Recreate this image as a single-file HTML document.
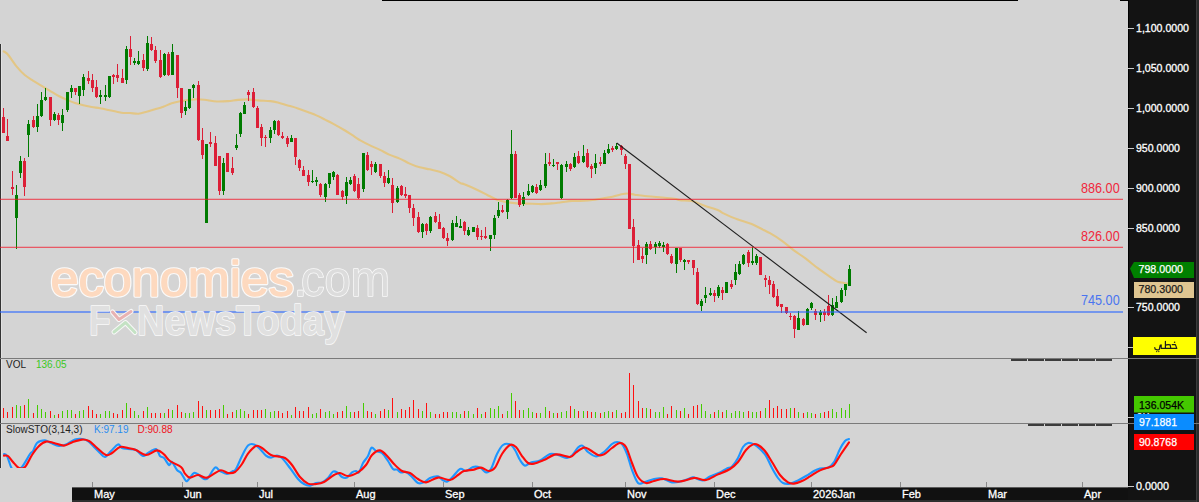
<!DOCTYPE html>
<html><head><meta charset="utf-8"><style>
html,body{margin:0;padding:0;width:1199px;height:502px;overflow:hidden;background:#d4d4d4;font-family:"Liberation Sans",sans-serif}
#wrap{position:relative;width:1199px;height:502px;overflow:hidden}
</style></head><body><div id="wrap">
<svg width="1199" height="502" viewBox="0 0 1199 502" style="position:absolute;left:0;top:0">
<rect x="0" y="0" width="1199" height="502" fill="#d4d4d4"/>
<g shape-rendering="crispEdges">
<rect x="382" y="0" width="636" height="1" fill="#000"/>
<rect x="1120" y="0" width="8" height="1" fill="#000"/>
<rect x="0" y="44" width="1" height="424" fill="#333"/>
<rect x="1" y="44" width="1" height="424" fill="#e2e2e2"/>
</g>
<path d="M3.7,51.3 C4.5,51.9 6.1,52.4 8.3,55 C10.5,57.6 13.9,63.3 16.7,66.7 C19.5,70.1 22.2,73 25,75.3 C27.8,77.6 30.5,79 33.3,80.8 C36.1,82.5 38.9,84.1 41.7,85.8 C44.5,87.5 47.2,89.1 50,90.8 C52.8,92.5 55.5,94.3 58.3,95.8 C61.1,97.3 63.9,98.5 66.7,99.7 C69.5,100.9 72.2,102.1 75,103 C77.8,103.9 80.5,104.6 83.3,105.3 C86.1,106 88.9,106.5 91.7,107 C94.5,107.5 97.2,107.8 100,108.3 C102.8,108.8 105.5,109.4 108.3,110 C111.1,110.6 114.2,111.2 116.7,111.7 C119.2,112.2 121.1,112.8 123.3,113 C125.5,113.2 127.5,112.9 130,113 C132.5,113.1 135.5,114 138.3,113.8 C141.1,113.6 143.9,112.5 146.7,111.7 C149.5,110.9 152.2,110 155,109.2 C157.8,108.4 160.5,107.7 163.3,106.7 C166.1,105.7 168.9,104.2 171.7,103.3 C174.5,102.4 177.2,101.8 180,101.3 C182.8,100.8 185.5,100.3 188.3,100 C191.1,99.7 194,99.2 196.7,99.2 C199.4,99.2 201.2,99.3 204.6,99.7 C208,100.1 213.1,101.3 217,101.5 C220.9,101.7 224.5,101.4 228,101.1 C231.5,100.8 234.7,100.2 238,99.9 C241.3,99.6 244.7,99.3 248,99.4 C251.3,99.5 254.2,100.1 257.9,100.4 C261.6,100.7 267,100.8 270.3,101.1 C273.6,101.4 274.9,101.7 277.8,102.4 C280.7,103.1 284.3,104.4 287.7,105.4 C291.1,106.4 294.7,107.4 298,108.5 C301.3,109.6 304.6,110.8 307.7,112 C310.8,113.2 313.5,114.1 316.4,115.4 C319.3,116.7 322.2,118.2 325,119.6 C327.8,121 329.6,121.8 332.9,123.6 C336.2,125.4 341.4,128.3 345,130.5 C348.6,132.7 352.2,135.2 354.8,136.8 C357.4,138.5 357.8,139 360.3,140.4 C362.8,141.8 366.7,143.8 370,145.4 C373.3,147 376.7,148.3 380,149.9 C383.3,151.5 386.5,153.5 389.8,154.9 C393.1,156.3 396.4,157.2 399.7,158.6 C403,160 406.4,162.1 409.7,163.6 C413,165.1 416.4,166.4 419.7,167.3 C423,168.2 426.3,168.6 429.6,169.3 C432.9,170.1 436.3,170.7 439.6,171.8 C442.9,172.9 446.1,174.2 449.5,176 C452.9,177.8 457.5,181.4 460,182.8 C462.5,184.2 461.6,183 464.4,184.2 C467.2,185.3 473.1,187.9 476.9,189.7 C480.6,191.4 483.6,193 486.9,194.7 C490.2,196.4 493.5,198.4 496.8,199.7 C500.1,200.9 503.5,201.6 506.8,202.2 C510.1,202.8 513.4,203.2 516.7,203.4 C520,203.6 522.6,203.5 526.7,203.6 C530.9,203.7 537.5,204.1 541.6,204.1 C545.8,204.1 548.3,203.7 551.6,203.4 C554.9,203.1 558.1,202.6 561.5,202.2 C564.9,201.8 568.9,201.1 572,200.9 C575.1,200.7 576.2,201.1 580,200.9 C583.8,200.7 589.9,200.3 594.9,199.7 C599.9,199.1 605.6,198 609.8,197.2 C613.9,196.4 616.9,195.3 619.8,194.7 C622.7,194.1 624.7,193.5 627.2,193.5 C629.7,193.5 631.8,194.3 634.7,194.7 C637.6,195.1 640.6,195.6 644.7,196 C648.9,196.4 654.6,196.7 659.6,197.2 C664.6,197.7 671.1,198.3 674.5,198.8 C677.9,199.3 677.1,199.8 680,200.2 C682.9,200.6 688,200.1 692,201 C696,201.9 699.5,203.9 703.9,205.5 C708.3,207.1 715,209 718.2,210.3 C721.4,211.6 719.8,211.6 723,213.1 C726.2,214.6 732.5,217.5 737.3,219.3 C742.1,221.1 747.3,222.2 751.7,224 C756.1,225.8 760.6,228.5 763.6,230 C766.6,231.5 766.9,231.4 770,233.2 C773.1,235 778,238 782,240.8 C786,243.7 789.9,247.3 793.9,250.3 C797.9,253.3 801.8,255.7 805.8,258.7 C809.8,261.7 813.8,265.2 817.8,268.2 C821.8,271.2 826.5,274.4 829.7,276.6 C832.9,278.8 834.9,280.4 836.9,281.4 C838.9,282.4 840,282.2 841.7,282.6 C843.4,283 846.1,283.4 847,283.6" fill="none" stroke="#e3c685" stroke-width="2.1" stroke-linejoin="round" stroke-linecap="round"/>
<g shape-rendering="crispEdges"><rect x="3" y="108" width="1" height="25" fill="#dc1f37"/><rect x="2" y="117" width="3" height="16" fill="#dc1f37"/><rect x="7" y="119" width="1" height="22" fill="#dc1f37"/><rect x="6" y="136" width="3" height="5" fill="#dc1f37"/><rect x="12" y="171" width="1" height="24" fill="#dc1f37"/><rect x="11" y="187" width="3" height="2" fill="#dc1f37"/><rect x="16" y="185" width="1" height="64" fill="#007b00"/><rect x="15" y="195" width="3" height="23" fill="#007b00"/><rect x="20" y="156" width="1" height="22" fill="#007b00"/><rect x="19" y="161" width="3" height="12" fill="#007b00"/><rect x="24" y="158" width="1" height="38" fill="#dc1f37"/><rect x="23" y="161" width="3" height="26" fill="#dc1f37"/><rect x="28" y="120" width="1" height="37" fill="#007b00"/><rect x="27" y="124" width="3" height="11" fill="#007b00"/><rect x="33" y="116" width="1" height="12" fill="#dc1f37"/><rect x="32" y="120" width="3" height="7" fill="#dc1f37"/><rect x="37" y="104" width="1" height="28" fill="#007b00"/><rect x="36" y="116" width="3" height="11" fill="#007b00"/><rect x="41" y="92" width="1" height="25" fill="#007b00"/><rect x="40" y="100" width="3" height="16" fill="#007b00"/><rect x="45" y="88" width="1" height="13" fill="#007b00"/><rect x="44" y="97" width="3" height="3" fill="#007b00"/><rect x="50" y="97" width="1" height="29" fill="#dc1f37"/><rect x="49" y="97" width="3" height="23" fill="#dc1f37"/><rect x="54" y="112" width="1" height="9" fill="#007b00"/><rect x="53" y="114" width="3" height="6" fill="#007b00"/><rect x="58" y="113" width="1" height="12" fill="#dc1f37"/><rect x="57" y="115" width="3" height="5" fill="#dc1f37"/><rect x="62" y="109" width="1" height="22" fill="#007b00"/><rect x="61" y="115" width="3" height="8" fill="#007b00"/><rect x="67" y="92" width="1" height="20" fill="#007b00"/><rect x="66" y="92" width="3" height="18" fill="#007b00"/><rect x="71" y="85" width="1" height="13" fill="#007b00"/><rect x="70" y="88" width="3" height="4" fill="#007b00"/><rect x="75" y="88" width="1" height="7" fill="#dc1f37"/><rect x="74" y="88" width="3" height="4" fill="#dc1f37"/><rect x="79" y="86" width="1" height="18" fill="#007b00"/><rect x="78" y="86" width="3" height="10" fill="#007b00"/><rect x="83" y="74" width="1" height="22" fill="#007b00"/><rect x="82" y="77" width="3" height="13" fill="#007b00"/><rect x="88" y="71" width="1" height="13" fill="#dc1f37"/><rect x="87" y="78" width="3" height="3" fill="#dc1f37"/><rect x="92" y="74" width="1" height="18" fill="#dc1f37"/><rect x="91" y="80" width="3" height="8" fill="#dc1f37"/><rect x="96" y="80" width="1" height="18" fill="#dc1f37"/><rect x="95" y="87" width="3" height="10" fill="#dc1f37"/><rect x="100" y="90" width="1" height="14" fill="#007b00"/><rect x="99" y="95" width="3" height="2" fill="#007b00"/><rect x="105" y="85" width="1" height="16" fill="#007b00"/><rect x="104" y="95" width="3" height="2" fill="#007b00"/><rect x="109" y="76" width="1" height="22" fill="#007b00"/><rect x="108" y="76" width="3" height="21" fill="#007b00"/><rect x="113" y="74" width="1" height="10" fill="#dc1f37"/><rect x="112" y="75" width="3" height="2" fill="#dc1f37"/><rect x="117" y="64" width="1" height="18" fill="#dc1f37"/><rect x="116" y="75" width="3" height="3" fill="#dc1f37"/><rect x="122" y="69" width="1" height="14" fill="#dc1f37"/><rect x="121" y="78" width="3" height="5" fill="#dc1f37"/><rect x="126" y="46" width="1" height="38" fill="#007b00"/><rect x="125" y="49" width="3" height="31" fill="#007b00"/><rect x="130" y="36" width="1" height="29" fill="#dc1f37"/><rect x="129" y="49" width="3" height="8" fill="#dc1f37"/><rect x="134" y="58" width="1" height="7" fill="#007b00"/><rect x="133" y="61" width="3" height="2" fill="#007b00"/><rect x="138" y="51" width="1" height="14" fill="#007b00"/><rect x="137" y="61" width="3" height="3" fill="#007b00"/><rect x="143" y="54" width="1" height="17" fill="#dc1f37"/><rect x="142" y="60" width="3" height="8" fill="#dc1f37"/><rect x="147" y="36" width="1" height="35" fill="#007b00"/><rect x="146" y="43" width="3" height="26" fill="#007b00"/><rect x="151" y="37" width="1" height="14" fill="#dc1f37"/><rect x="150" y="44" width="3" height="6" fill="#dc1f37"/><rect x="155" y="46" width="1" height="17" fill="#dc1f37"/><rect x="154" y="50" width="3" height="11" fill="#dc1f37"/><rect x="160" y="50" width="1" height="28" fill="#dc1f37"/><rect x="159" y="60" width="3" height="17" fill="#dc1f37"/><rect x="164" y="53" width="1" height="23" fill="#007b00"/><rect x="163" y="54" width="3" height="21" fill="#007b00"/><rect x="168" y="52" width="1" height="24" fill="#dc1f37"/><rect x="167" y="54" width="3" height="21" fill="#dc1f37"/><rect x="172" y="44" width="1" height="31" fill="#007b00"/><rect x="171" y="52" width="3" height="23" fill="#007b00"/><rect x="177" y="55" width="1" height="43" fill="#dc1f37"/><rect x="176" y="55" width="3" height="33" fill="#dc1f37"/><rect x="181" y="88" width="1" height="30" fill="#dc1f37"/><rect x="180" y="88" width="3" height="25" fill="#dc1f37"/><rect x="185" y="101" width="1" height="14" fill="#007b00"/><rect x="184" y="107" width="3" height="4" fill="#007b00"/><rect x="189" y="89" width="1" height="20" fill="#007b00"/><rect x="188" y="89" width="3" height="19" fill="#007b00"/><rect x="193" y="84" width="1" height="14" fill="#007b00"/><rect x="192" y="85" width="3" height="3" fill="#007b00"/><rect x="198" y="81" width="1" height="60" fill="#dc1f37"/><rect x="197" y="85" width="3" height="55" fill="#dc1f37"/><rect x="202" y="128" width="1" height="31" fill="#dc1f37"/><rect x="201" y="140" width="3" height="15" fill="#dc1f37"/><rect x="205" y="144" width="3" height="79" fill="#007b00"/><rect x="210" y="132" width="1" height="15" fill="#dc1f37"/><rect x="209" y="142" width="3" height="2" fill="#dc1f37"/><rect x="215" y="136" width="1" height="30" fill="#dc1f37"/><rect x="214" y="143" width="3" height="23" fill="#dc1f37"/><rect x="219" y="156" width="1" height="39" fill="#dc1f37"/><rect x="218" y="156" width="3" height="35" fill="#dc1f37"/><rect x="223" y="158" width="1" height="37" fill="#007b00"/><rect x="222" y="163" width="3" height="28" fill="#007b00"/><rect x="226" y="153" width="3" height="19" fill="#dc1f37"/><rect x="232" y="157" width="1" height="18" fill="#dc1f37"/><rect x="231" y="168" width="3" height="5" fill="#dc1f37"/><rect x="236" y="134" width="1" height="16" fill="#007b00"/><rect x="235" y="145" width="3" height="3" fill="#007b00"/><rect x="240" y="112" width="1" height="25" fill="#007b00"/><rect x="239" y="113" width="3" height="21" fill="#007b00"/><rect x="244" y="102" width="1" height="12" fill="#007b00"/><rect x="243" y="105" width="3" height="9" fill="#007b00"/><rect x="248" y="90" width="1" height="11" fill="#dc1f37"/><rect x="247" y="92" width="3" height="3" fill="#dc1f37"/><rect x="253" y="88" width="1" height="20" fill="#dc1f37"/><rect x="252" y="92" width="3" height="15" fill="#dc1f37"/><rect x="257" y="106" width="1" height="22" fill="#dc1f37"/><rect x="256" y="108" width="3" height="20" fill="#dc1f37"/><rect x="261" y="124" width="1" height="22" fill="#dc1f37"/><rect x="260" y="127" width="3" height="11" fill="#dc1f37"/><rect x="265" y="135" width="1" height="12" fill="#dc1f37"/><rect x="264" y="137" width="3" height="1" fill="#dc1f37"/><rect x="270" y="127" width="1" height="16" fill="#007b00"/><rect x="269" y="130" width="3" height="8" fill="#007b00"/><rect x="274" y="120" width="1" height="14" fill="#007b00"/><rect x="273" y="121" width="3" height="9" fill="#007b00"/><rect x="278" y="120" width="1" height="16" fill="#dc1f37"/><rect x="277" y="121" width="3" height="14" fill="#dc1f37"/><rect x="282" y="132" width="1" height="7" fill="#dc1f37"/><rect x="281" y="136" width="3" height="2" fill="#dc1f37"/><rect x="287" y="136" width="1" height="11" fill="#dc1f37"/><rect x="286" y="138" width="3" height="6" fill="#dc1f37"/><rect x="291" y="135" width="1" height="7" fill="#007b00"/><rect x="290" y="138" width="3" height="4" fill="#007b00"/><rect x="295" y="138" width="1" height="27" fill="#dc1f37"/><rect x="294" y="138" width="3" height="19" fill="#dc1f37"/><rect x="299" y="159" width="1" height="12" fill="#dc1f37"/><rect x="298" y="160" width="3" height="8" fill="#dc1f37"/><rect x="303" y="166" width="1" height="10" fill="#dc1f37"/><rect x="302" y="170" width="3" height="6" fill="#dc1f37"/><rect x="308" y="170" width="1" height="16" fill="#dc1f37"/><rect x="307" y="175" width="3" height="7" fill="#dc1f37"/><rect x="312" y="170" width="1" height="13" fill="#007b00"/><rect x="311" y="181" width="3" height="1" fill="#007b00"/><rect x="316" y="177" width="1" height="9" fill="#007b00"/><rect x="315" y="180" width="3" height="2" fill="#007b00"/><rect x="320" y="183" width="1" height="14" fill="#dc1f37"/><rect x="319" y="184" width="3" height="11" fill="#dc1f37"/><rect x="325" y="183" width="1" height="19" fill="#007b00"/><rect x="324" y="184" width="3" height="13" fill="#007b00"/><rect x="329" y="173" width="1" height="15" fill="#007b00"/><rect x="328" y="173" width="3" height="11" fill="#007b00"/><rect x="333" y="171" width="1" height="9" fill="#007b00"/><rect x="332" y="172" width="3" height="5" fill="#007b00"/><rect x="337" y="174" width="1" height="21" fill="#dc1f37"/><rect x="336" y="175" width="3" height="20" fill="#dc1f37"/><rect x="342" y="190" width="1" height="10" fill="#dc1f37"/><rect x="341" y="191" width="3" height="6" fill="#dc1f37"/><rect x="346" y="177" width="1" height="27" fill="#007b00"/><rect x="345" y="182" width="3" height="14" fill="#007b00"/><rect x="350" y="177" width="1" height="8" fill="#007b00"/><rect x="349" y="180" width="3" height="4" fill="#007b00"/><rect x="354" y="174" width="1" height="18" fill="#dc1f37"/><rect x="353" y="176" width="3" height="15" fill="#dc1f37"/><rect x="358" y="178" width="1" height="21" fill="#dc1f37"/><rect x="357" y="184" width="3" height="14" fill="#dc1f37"/><rect x="363" y="153" width="1" height="39" fill="#007b00"/><rect x="362" y="153" width="3" height="36" fill="#007b00"/><rect x="367" y="152" width="1" height="19" fill="#dc1f37"/><rect x="366" y="155" width="3" height="15" fill="#dc1f37"/><rect x="371" y="161" width="1" height="14" fill="#dc1f37"/><rect x="370" y="164" width="3" height="3" fill="#dc1f37"/><rect x="375" y="162" width="1" height="11" fill="#007b00"/><rect x="374" y="164" width="3" height="8" fill="#007b00"/><rect x="380" y="164" width="1" height="14" fill="#dc1f37"/><rect x="379" y="164" width="3" height="12" fill="#dc1f37"/><rect x="384" y="172" width="1" height="15" fill="#dc1f37"/><rect x="383" y="176" width="3" height="7" fill="#dc1f37"/><rect x="388" y="170" width="1" height="14" fill="#007b00"/><rect x="387" y="178" width="3" height="5" fill="#007b00"/><rect x="392" y="178" width="1" height="35" fill="#dc1f37"/><rect x="391" y="185" width="3" height="18" fill="#dc1f37"/><rect x="397" y="186" width="1" height="17" fill="#007b00"/><rect x="396" y="188" width="3" height="14" fill="#007b00"/><rect x="401" y="185" width="1" height="11" fill="#dc1f37"/><rect x="400" y="186" width="3" height="9" fill="#dc1f37"/><rect x="405" y="187" width="1" height="11" fill="#dc1f37"/><rect x="404" y="194" width="3" height="2" fill="#dc1f37"/><rect x="409" y="195" width="1" height="18" fill="#dc1f37"/><rect x="408" y="195" width="3" height="13" fill="#dc1f37"/><rect x="413" y="204" width="1" height="22" fill="#dc1f37"/><rect x="412" y="208" width="3" height="10" fill="#dc1f37"/><rect x="418" y="212" width="1" height="21" fill="#dc1f37"/><rect x="417" y="217" width="3" height="15" fill="#dc1f37"/><rect x="422" y="223" width="1" height="15" fill="#007b00"/><rect x="421" y="224" width="3" height="8" fill="#007b00"/><rect x="426" y="223" width="1" height="12" fill="#dc1f37"/><rect x="425" y="224" width="3" height="7" fill="#dc1f37"/><rect x="430" y="216" width="1" height="17" fill="#007b00"/><rect x="429" y="217" width="3" height="14" fill="#007b00"/><rect x="435" y="212" width="1" height="11" fill="#dc1f37"/><rect x="434" y="216" width="3" height="6" fill="#dc1f37"/><rect x="439" y="214" width="1" height="15" fill="#dc1f37"/><rect x="438" y="222" width="3" height="7" fill="#dc1f37"/><rect x="443" y="227" width="1" height="12" fill="#dc1f37"/><rect x="442" y="228" width="3" height="10" fill="#dc1f37"/><rect x="447" y="233" width="1" height="13" fill="#dc1f37"/><rect x="446" y="238" width="3" height="3" fill="#dc1f37"/><rect x="452" y="220" width="1" height="21" fill="#007b00"/><rect x="451" y="223" width="3" height="17" fill="#007b00"/><rect x="456" y="216" width="1" height="11" fill="#007b00"/><rect x="455" y="223" width="3" height="4" fill="#007b00"/><rect x="460" y="219" width="1" height="9" fill="#007b00"/><rect x="459" y="226" width="3" height="2" fill="#007b00"/><rect x="464" y="221" width="1" height="14" fill="#dc1f37"/><rect x="463" y="222" width="3" height="9" fill="#dc1f37"/><rect x="468" y="227" width="1" height="9" fill="#007b00"/><rect x="467" y="230" width="3" height="5" fill="#007b00"/><rect x="472" y="227" width="3" height="5" fill="#007b00"/><rect x="477" y="225" width="1" height="15" fill="#dc1f37"/><rect x="476" y="228" width="3" height="9" fill="#dc1f37"/><rect x="481" y="230" width="1" height="10" fill="#dc1f37"/><rect x="480" y="236" width="3" height="1" fill="#dc1f37"/><rect x="485" y="227" width="1" height="12" fill="#dc1f37"/><rect x="484" y="236" width="3" height="2" fill="#dc1f37"/><rect x="490" y="235" width="1" height="16" fill="#007b00"/><rect x="489" y="235" width="3" height="4" fill="#007b00"/><rect x="494" y="215" width="1" height="24" fill="#007b00"/><rect x="493" y="218" width="3" height="17" fill="#007b00"/><rect x="498" y="202" width="1" height="16" fill="#007b00"/><rect x="497" y="210" width="3" height="6" fill="#007b00"/><rect x="502" y="205" width="1" height="8" fill="#dc1f37"/><rect x="501" y="210" width="3" height="2" fill="#dc1f37"/><rect x="507" y="199" width="1" height="20" fill="#007b00"/><rect x="506" y="200" width="3" height="12" fill="#007b00"/><rect x="511" y="130" width="1" height="69" fill="#007b00"/><rect x="510" y="154" width="3" height="44" fill="#007b00"/><rect x="515" y="151" width="1" height="47" fill="#dc1f37"/><rect x="514" y="154" width="3" height="44" fill="#dc1f37"/><rect x="519" y="193" width="1" height="14" fill="#dc1f37"/><rect x="518" y="195" width="3" height="10" fill="#dc1f37"/><rect x="523" y="192" width="1" height="14" fill="#007b00"/><rect x="522" y="197" width="3" height="7" fill="#007b00"/><rect x="528" y="184" width="1" height="12" fill="#007b00"/><rect x="527" y="191" width="3" height="4" fill="#007b00"/><rect x="532" y="185" width="1" height="8" fill="#007b00"/><rect x="531" y="186" width="3" height="6" fill="#007b00"/><rect x="536" y="184" width="1" height="10" fill="#dc1f37"/><rect x="535" y="187" width="3" height="6" fill="#dc1f37"/><rect x="540" y="180" width="1" height="11" fill="#007b00"/><rect x="539" y="185" width="3" height="5" fill="#007b00"/><rect x="545" y="153" width="1" height="35" fill="#007b00"/><rect x="544" y="164" width="3" height="22" fill="#007b00"/><rect x="549" y="153" width="1" height="13" fill="#dc1f37"/><rect x="548" y="162" width="3" height="2" fill="#dc1f37"/><rect x="553" y="159" width="1" height="8" fill="#007b00"/><rect x="552" y="165" width="3" height="1" fill="#007b00"/><rect x="557" y="162" width="1" height="8" fill="#dc1f37"/><rect x="556" y="162" width="3" height="2" fill="#dc1f37"/><rect x="561" y="164" width="1" height="35" fill="#007b00"/><rect x="560" y="165" width="3" height="33" fill="#007b00"/><rect x="566" y="161" width="1" height="11" fill="#007b00"/><rect x="565" y="164" width="3" height="3" fill="#007b00"/><rect x="570" y="163" width="1" height="8" fill="#dc1f37"/><rect x="569" y="164" width="3" height="5" fill="#dc1f37"/><rect x="574" y="153" width="1" height="15" fill="#007b00"/><rect x="573" y="157" width="3" height="10" fill="#007b00"/><rect x="578" y="151" width="1" height="13" fill="#dc1f37"/><rect x="577" y="156" width="3" height="7" fill="#dc1f37"/><rect x="583" y="145" width="1" height="18" fill="#007b00"/><rect x="582" y="156" width="3" height="6" fill="#007b00"/><rect x="587" y="149" width="1" height="19" fill="#dc1f37"/><rect x="586" y="153" width="3" height="14" fill="#dc1f37"/><rect x="591" y="164" width="1" height="14" fill="#dc1f37"/><rect x="590" y="166" width="3" height="3" fill="#dc1f37"/><rect x="595" y="154" width="1" height="20" fill="#007b00"/><rect x="594" y="163" width="3" height="5" fill="#007b00"/><rect x="600" y="157" width="1" height="9" fill="#dc1f37"/><rect x="599" y="162" width="3" height="2" fill="#dc1f37"/><rect x="604" y="150" width="1" height="14" fill="#007b00"/><rect x="603" y="153" width="3" height="11" fill="#007b00"/><rect x="608" y="144" width="1" height="10" fill="#007b00"/><rect x="607" y="149" width="3" height="4" fill="#007b00"/><rect x="612" y="146" width="1" height="6" fill="#dc1f37"/><rect x="611" y="148" width="3" height="2" fill="#dc1f37"/><rect x="616" y="143" width="1" height="7" fill="#007b00"/><rect x="615" y="146" width="3" height="3" fill="#007b00"/><rect x="621" y="145" width="1" height="10" fill="#dc1f37"/><rect x="620" y="146" width="3" height="4" fill="#dc1f37"/><rect x="625" y="154" width="1" height="15" fill="#dc1f37"/><rect x="624" y="156" width="3" height="8" fill="#dc1f37"/><rect x="628" y="164" width="3" height="65" fill="#dc1f37"/><rect x="633" y="219" width="1" height="44" fill="#dc1f37"/><rect x="632" y="227" width="3" height="19" fill="#dc1f37"/><rect x="638" y="240" width="1" height="20" fill="#dc1f37"/><rect x="637" y="245" width="3" height="15" fill="#dc1f37"/><rect x="642" y="248" width="1" height="15" fill="#dc1f37"/><rect x="641" y="256" width="3" height="3" fill="#dc1f37"/><rect x="646" y="242" width="1" height="22" fill="#007b00"/><rect x="645" y="244" width="3" height="11" fill="#007b00"/><rect x="650" y="241" width="1" height="9" fill="#dc1f37"/><rect x="649" y="244" width="3" height="5" fill="#dc1f37"/><rect x="655" y="242" width="1" height="12" fill="#007b00"/><rect x="654" y="244" width="3" height="3" fill="#007b00"/><rect x="659" y="241" width="1" height="7" fill="#007b00"/><rect x="658" y="243" width="3" height="3" fill="#007b00"/><rect x="663" y="242" width="1" height="10" fill="#007b00"/><rect x="662" y="245" width="3" height="2" fill="#007b00"/><rect x="667" y="243" width="1" height="12" fill="#dc1f37"/><rect x="666" y="244" width="3" height="10" fill="#dc1f37"/><rect x="671" y="254" width="1" height="10" fill="#dc1f37"/><rect x="670" y="256" width="3" height="7" fill="#dc1f37"/><rect x="676" y="248" width="1" height="25" fill="#007b00"/><rect x="675" y="248" width="3" height="16" fill="#007b00"/><rect x="680" y="248" width="1" height="14" fill="#dc1f37"/><rect x="679" y="248" width="3" height="12" fill="#dc1f37"/><rect x="684" y="259" width="1" height="11" fill="#007b00"/><rect x="683" y="260" width="3" height="2" fill="#007b00"/><rect x="688" y="260" width="1" height="4" fill="#dc1f37"/><rect x="687" y="260" width="3" height="2" fill="#dc1f37"/><rect x="693" y="260" width="1" height="15" fill="#dc1f37"/><rect x="692" y="260" width="3" height="8" fill="#dc1f37"/><rect x="697" y="268" width="1" height="37" fill="#dc1f37"/><rect x="696" y="272" width="3" height="32" fill="#dc1f37"/><rect x="701" y="299" width="1" height="12" fill="#007b00"/><rect x="700" y="301" width="3" height="5" fill="#007b00"/><rect x="705" y="287" width="1" height="16" fill="#007b00"/><rect x="704" y="295" width="3" height="3" fill="#007b00"/><rect x="710" y="288" width="1" height="8" fill="#007b00"/><rect x="709" y="293" width="3" height="2" fill="#007b00"/><rect x="714" y="290" width="1" height="12" fill="#dc1f37"/><rect x="713" y="293" width="3" height="3" fill="#dc1f37"/><rect x="718" y="285" width="1" height="13" fill="#007b00"/><rect x="717" y="287" width="3" height="9" fill="#007b00"/><rect x="722" y="287" width="1" height="13" fill="#dc1f37"/><rect x="721" y="290" width="3" height="3" fill="#dc1f37"/><rect x="725" y="282" width="3" height="11" fill="#007b00"/><rect x="731" y="280" width="1" height="9" fill="#dc1f37"/><rect x="730" y="284" width="3" height="3" fill="#dc1f37"/><rect x="735" y="264" width="1" height="21" fill="#007b00"/><rect x="734" y="272" width="3" height="8" fill="#007b00"/><rect x="739" y="261" width="1" height="14" fill="#007b00"/><rect x="738" y="264" width="3" height="10" fill="#007b00"/><rect x="743" y="254" width="1" height="11" fill="#007b00"/><rect x="742" y="255" width="3" height="9" fill="#007b00"/><rect x="748" y="250" width="1" height="17" fill="#dc1f37"/><rect x="747" y="252" width="3" height="11" fill="#dc1f37"/><rect x="752" y="247" width="1" height="18" fill="#007b00"/><rect x="751" y="261" width="3" height="2" fill="#007b00"/><rect x="756" y="254" width="1" height="11" fill="#007b00"/><rect x="755" y="256" width="3" height="7" fill="#007b00"/><rect x="759" y="257" width="3" height="18" fill="#dc1f37"/><rect x="765" y="275" width="1" height="12" fill="#dc1f37"/><rect x="764" y="278" width="3" height="2" fill="#dc1f37"/><rect x="769" y="276" width="1" height="18" fill="#dc1f37"/><rect x="768" y="280" width="3" height="5" fill="#dc1f37"/><rect x="773" y="281" width="1" height="17" fill="#dc1f37"/><rect x="772" y="284" width="3" height="13" fill="#dc1f37"/><rect x="777" y="289" width="1" height="18" fill="#dc1f37"/><rect x="776" y="296" width="3" height="10" fill="#dc1f37"/><rect x="781" y="304" width="1" height="9" fill="#dc1f37"/><rect x="780" y="304" width="3" height="3" fill="#dc1f37"/><rect x="786" y="307" width="1" height="7" fill="#dc1f37"/><rect x="785" y="307" width="3" height="6" fill="#dc1f37"/><rect x="790" y="313" width="1" height="7" fill="#dc1f37"/><rect x="789" y="316" width="3" height="1" fill="#dc1f37"/><rect x="794" y="315" width="1" height="23" fill="#dc1f37"/><rect x="793" y="316" width="3" height="13" fill="#dc1f37"/><rect x="798" y="311" width="1" height="19" fill="#007b00"/><rect x="797" y="318" width="3" height="12" fill="#007b00"/><rect x="803" y="318" width="1" height="8" fill="#dc1f37"/><rect x="802" y="319" width="3" height="6" fill="#dc1f37"/><rect x="807" y="308" width="1" height="17" fill="#007b00"/><rect x="806" y="309" width="3" height="16" fill="#007b00"/><rect x="811" y="302" width="1" height="8" fill="#007b00"/><rect x="810" y="303" width="3" height="5" fill="#007b00"/><rect x="815" y="309" width="1" height="11" fill="#dc1f37"/><rect x="814" y="311" width="3" height="4" fill="#dc1f37"/><rect x="820" y="310" width="1" height="12" fill="#007b00"/><rect x="819" y="312" width="3" height="3" fill="#007b00"/><rect x="824" y="309" width="1" height="12" fill="#dc1f37"/><rect x="823" y="312" width="3" height="3" fill="#dc1f37"/><rect x="828" y="295" width="1" height="21" fill="#dc1f37"/><rect x="827" y="306" width="3" height="9" fill="#dc1f37"/><rect x="832" y="298" width="1" height="18" fill="#007b00"/><rect x="831" y="305" width="3" height="10" fill="#007b00"/><rect x="836" y="296" width="1" height="12" fill="#007b00"/><rect x="835" y="302" width="3" height="6" fill="#007b00"/><rect x="841" y="288" width="1" height="15" fill="#007b00"/><rect x="840" y="290" width="3" height="12" fill="#007b00"/><rect x="845" y="284" width="1" height="12" fill="#007b00"/><rect x="844" y="284" width="3" height="6" fill="#007b00"/><rect x="849" y="265" width="1" height="21" fill="#007b00"/><rect x="848" y="269" width="3" height="17" fill="#007b00"/></g>
<line x1="616.7" y1="143" x2="866.6" y2="332.7" stroke="#1e1e1e" stroke-width="1.1"/>
<g shape-rendering="crispEdges"><rect x="0" y="199" width="1123" height="1" fill="rgb(242,24,42)" fill-opacity="0.65"/>
<rect x="0" y="247" width="1123" height="1" fill="rgb(242,24,42)" fill-opacity="0.65"/>
<rect x="0" y="198" width="1123" height="1" fill="rgb(242,24,42)" fill-opacity="0.18"/>
<rect x="0" y="246" width="1123" height="1" fill="rgb(242,24,42)" fill-opacity="0.18"/>
<rect x="0" y="311" width="1123" height="2" fill="rgb(37,98,255)" fill-opacity="0.55"/></g>
<g font-family="Liberation Sans, sans-serif" font-size="14">
<text x="1081" y="193" fill="#f0283c" textLength="38.7" lengthAdjust="spacingAndGlyphs">886.00</text>
<text x="1081" y="241" fill="#f0283c" textLength="38.7" lengthAdjust="spacingAndGlyphs">826.00</text>
<text x="1081" y="305" fill="#4a74f0" textLength="38.7" lengthAdjust="spacingAndGlyphs">745.00</text>
</g>
<g shape-rendering="crispEdges">
<rect x="0" y="358" width="1199" height="1" fill="#7a7a7a"/>
<rect x="0" y="423" width="1199" height="1" fill="#7a7a7a"/>
<rect x="1011" y="359" width="16" height="1.5" fill="#3c3c3c"/>
<rect x="1028" y="359" width="16" height="1.5" fill="#3c3c3c"/>
<rect x="1045" y="359" width="16" height="1.5" fill="#3c3c3c"/>
<rect x="1062" y="359" width="16" height="1.5" fill="#3c3c3c"/>
<rect x="1079" y="359" width="16" height="1.5" fill="#3c3c3c"/>
<rect x="1096" y="359" width="16" height="1.5" fill="#3c3c3c"/>
<rect x="1028" y="424" width="16" height="1.5" fill="#3c3c3c"/>
<rect x="1045" y="424" width="16" height="1.5" fill="#3c3c3c"/>
<rect x="1062" y="424" width="16" height="1.5" fill="#3c3c3c"/>
<rect x="1079" y="424" width="16" height="1.5" fill="#3c3c3c"/>
<rect x="1096" y="424" width="16" height="1.5" fill="#3c3c3c"/>
</g>
<g shape-rendering="crispEdges"><rect x="3" y="408" width="1" height="10" fill="#ff1010"/><rect x="7" y="412" width="1" height="6" fill="#ff1010"/><rect x="12" y="407" width="1" height="11" fill="#ff1010"/><rect x="16" y="405" width="1" height="13" fill="#44cc00"/><rect x="20" y="406" width="1" height="12" fill="#44cc00"/><rect x="24" y="405" width="1" height="13" fill="#ff1010"/><rect x="28" y="399" width="1" height="19" fill="#44cc00"/><rect x="33" y="413" width="1" height="5" fill="#ff1010"/><rect x="37" y="405" width="1" height="13" fill="#44cc00"/><rect x="41" y="409" width="1" height="9" fill="#44cc00"/><rect x="45" y="412" width="1" height="6" fill="#44cc00"/><rect x="50" y="411" width="1" height="7" fill="#ff1010"/><rect x="54" y="415" width="1" height="3" fill="#44cc00"/><rect x="58" y="414" width="1" height="4" fill="#ff1010"/><rect x="62" y="411" width="1" height="7" fill="#44cc00"/><rect x="67" y="410" width="1" height="8" fill="#44cc00"/><rect x="71" y="410" width="1" height="8" fill="#44cc00"/><rect x="75" y="414" width="1" height="4" fill="#ff1010"/><rect x="79" y="411" width="1" height="7" fill="#44cc00"/><rect x="83" y="410" width="1" height="8" fill="#44cc00"/><rect x="88" y="406" width="1" height="12" fill="#ff1010"/><rect x="92" y="410" width="1" height="8" fill="#ff1010"/><rect x="96" y="414" width="1" height="4" fill="#ff1010"/><rect x="100" y="414" width="1" height="4" fill="#44cc00"/><rect x="105" y="411" width="1" height="7" fill="#44cc00"/><rect x="109" y="411" width="1" height="7" fill="#44cc00"/><rect x="113" y="413" width="1" height="5" fill="#ff1010"/><rect x="117" y="414" width="1" height="4" fill="#ff1010"/><rect x="122" y="410" width="1" height="8" fill="#ff1010"/><rect x="126" y="403" width="1" height="15" fill="#44cc00"/><rect x="130" y="408" width="1" height="10" fill="#ff1010"/><rect x="134" y="411" width="1" height="7" fill="#44cc00"/><rect x="138" y="415" width="1" height="3" fill="#44cc00"/><rect x="143" y="411" width="1" height="7" fill="#ff1010"/><rect x="147" y="407" width="1" height="11" fill="#44cc00"/><rect x="151" y="413" width="1" height="5" fill="#ff1010"/><rect x="155" y="413" width="1" height="5" fill="#ff1010"/><rect x="160" y="413" width="1" height="5" fill="#ff1010"/><rect x="164" y="413" width="1" height="5" fill="#44cc00"/><rect x="168" y="409" width="1" height="9" fill="#ff1010"/><rect x="172" y="410" width="1" height="8" fill="#44cc00"/><rect x="177" y="405" width="1" height="13" fill="#ff1010"/><rect x="181" y="412" width="1" height="6" fill="#ff1010"/><rect x="185" y="413" width="1" height="5" fill="#44cc00"/><rect x="189" y="413" width="1" height="5" fill="#44cc00"/><rect x="193" y="412" width="1" height="6" fill="#44cc00"/><rect x="198" y="401" width="1" height="17" fill="#ff1010"/><rect x="202" y="406" width="1" height="12" fill="#ff1010"/><rect x="206" y="410" width="1" height="8" fill="#44cc00"/><rect x="210" y="410" width="1" height="8" fill="#ff1010"/><rect x="215" y="410" width="1" height="8" fill="#ff1010"/><rect x="219" y="409" width="1" height="9" fill="#ff1010"/><rect x="223" y="405" width="1" height="13" fill="#44cc00"/><rect x="227" y="414" width="1" height="4" fill="#ff1010"/><rect x="232" y="412" width="1" height="6" fill="#ff1010"/><rect x="236" y="410" width="1" height="8" fill="#44cc00"/><rect x="240" y="409" width="1" height="9" fill="#44cc00"/><rect x="244" y="411" width="1" height="7" fill="#44cc00"/><rect x="248" y="414" width="1" height="4" fill="#ff1010"/><rect x="253" y="410" width="1" height="8" fill="#ff1010"/><rect x="257" y="410" width="1" height="8" fill="#ff1010"/><rect x="261" y="410" width="1" height="8" fill="#ff1010"/><rect x="265" y="409" width="1" height="9" fill="#44cc00"/><rect x="270" y="412" width="1" height="6" fill="#44cc00"/><rect x="274" y="411" width="1" height="7" fill="#44cc00"/><rect x="278" y="411" width="1" height="7" fill="#ff1010"/><rect x="282" y="413" width="1" height="5" fill="#ff1010"/><rect x="287" y="411" width="1" height="7" fill="#ff1010"/><rect x="291" y="415" width="1" height="3" fill="#44cc00"/><rect x="295" y="407" width="1" height="11" fill="#ff1010"/><rect x="299" y="411" width="1" height="7" fill="#ff1010"/><rect x="303" y="411" width="1" height="7" fill="#ff1010"/><rect x="308" y="407" width="1" height="11" fill="#ff1010"/><rect x="312" y="414" width="1" height="4" fill="#44cc00"/><rect x="316" y="413" width="1" height="5" fill="#44cc00"/><rect x="320" y="409" width="1" height="9" fill="#ff1010"/><rect x="325" y="412" width="1" height="6" fill="#44cc00"/><rect x="329" y="411" width="1" height="7" fill="#44cc00"/><rect x="333" y="414" width="1" height="4" fill="#44cc00"/><rect x="337" y="412" width="1" height="6" fill="#ff1010"/><rect x="342" y="411" width="1" height="7" fill="#ff1010"/><rect x="346" y="406" width="1" height="12" fill="#44cc00"/><rect x="350" y="412" width="1" height="6" fill="#44cc00"/><rect x="354" y="412" width="1" height="6" fill="#ff1010"/><rect x="358" y="411" width="1" height="7" fill="#ff1010"/><rect x="363" y="403" width="1" height="15" fill="#44cc00"/><rect x="367" y="411" width="1" height="7" fill="#ff1010"/><rect x="371" y="412" width="1" height="6" fill="#ff1010"/><rect x="375" y="414" width="1" height="4" fill="#44cc00"/><rect x="380" y="411" width="1" height="7" fill="#ff1010"/><rect x="384" y="409" width="1" height="9" fill="#ff1010"/><rect x="388" y="410" width="1" height="8" fill="#44cc00"/><rect x="392" y="398" width="1" height="20" fill="#ff1010"/><rect x="397" y="412" width="1" height="6" fill="#44cc00"/><rect x="401" y="409" width="1" height="9" fill="#ff1010"/><rect x="405" y="410" width="1" height="8" fill="#ff1010"/><rect x="409" y="407" width="1" height="11" fill="#ff1010"/><rect x="413" y="400" width="1" height="18" fill="#ff1010"/><rect x="418" y="409" width="1" height="9" fill="#ff1010"/><rect x="422" y="411" width="1" height="7" fill="#44cc00"/><rect x="426" y="403" width="1" height="15" fill="#ff1010"/><rect x="430" y="412" width="1" height="6" fill="#44cc00"/><rect x="435" y="414" width="1" height="4" fill="#ff1010"/><rect x="439" y="414" width="1" height="4" fill="#ff1010"/><rect x="443" y="412" width="1" height="6" fill="#ff1010"/><rect x="447" y="412" width="1" height="6" fill="#ff1010"/><rect x="452" y="412" width="1" height="6" fill="#44cc00"/><rect x="456" y="412" width="1" height="6" fill="#44cc00"/><rect x="460" y="414" width="1" height="4" fill="#44cc00"/><rect x="464" y="411" width="1" height="7" fill="#ff1010"/><rect x="468" y="411" width="1" height="7" fill="#44cc00"/><rect x="473" y="414" width="1" height="4" fill="#44cc00"/><rect x="477" y="408" width="1" height="10" fill="#ff1010"/><rect x="481" y="414" width="1" height="4" fill="#44cc00"/><rect x="485" y="412" width="1" height="6" fill="#ff1010"/><rect x="490" y="408" width="1" height="10" fill="#44cc00"/><rect x="494" y="409" width="1" height="9" fill="#44cc00"/><rect x="498" y="406" width="1" height="12" fill="#44cc00"/><rect x="502" y="414" width="1" height="4" fill="#ff1010"/><rect x="507" y="411" width="1" height="7" fill="#44cc00"/><rect x="511" y="393" width="1" height="25" fill="#44cc00"/><rect x="515" y="401" width="1" height="17" fill="#ff1010"/><rect x="519" y="410" width="1" height="8" fill="#ff1010"/><rect x="523" y="410" width="1" height="8" fill="#44cc00"/><rect x="528" y="408" width="1" height="10" fill="#44cc00"/><rect x="532" y="412" width="1" height="6" fill="#44cc00"/><rect x="536" y="413" width="1" height="5" fill="#ff1010"/><rect x="540" y="413" width="1" height="5" fill="#44cc00"/><rect x="545" y="407" width="1" height="11" fill="#44cc00"/><rect x="549" y="411" width="1" height="7" fill="#ff1010"/><rect x="553" y="413" width="1" height="5" fill="#44cc00"/><rect x="557" y="413" width="1" height="5" fill="#ff1010"/><rect x="561" y="412" width="1" height="6" fill="#44cc00"/><rect x="566" y="411" width="1" height="7" fill="#44cc00"/><rect x="570" y="406" width="1" height="12" fill="#ff1010"/><rect x="574" y="409" width="1" height="9" fill="#44cc00"/><rect x="578" y="411" width="1" height="7" fill="#ff1010"/><rect x="583" y="411" width="1" height="7" fill="#44cc00"/><rect x="587" y="411" width="1" height="7" fill="#ff1010"/><rect x="591" y="412" width="1" height="6" fill="#ff1010"/><rect x="595" y="412" width="1" height="6" fill="#44cc00"/><rect x="600" y="413" width="1" height="5" fill="#ff1010"/><rect x="604" y="412" width="1" height="6" fill="#44cc00"/><rect x="608" y="411" width="1" height="7" fill="#44cc00"/><rect x="612" y="412" width="1" height="6" fill="#ff1010"/><rect x="616" y="410" width="1" height="8" fill="#44cc00"/><rect x="621" y="413" width="1" height="5" fill="#ff1010"/><rect x="625" y="412" width="1" height="6" fill="#ff1010"/><rect x="629" y="373" width="1" height="45" fill="#ff1010"/><rect x="633" y="385" width="1" height="33" fill="#ff1010"/><rect x="638" y="401" width="1" height="17" fill="#ff1010"/><rect x="642" y="408" width="1" height="10" fill="#ff1010"/><rect x="646" y="408" width="1" height="10" fill="#44cc00"/><rect x="650" y="409" width="1" height="9" fill="#ff1010"/><rect x="655" y="412" width="1" height="6" fill="#44cc00"/><rect x="659" y="412" width="1" height="6" fill="#44cc00"/><rect x="663" y="407" width="1" height="11" fill="#44cc00"/><rect x="667" y="414" width="1" height="4" fill="#ff1010"/><rect x="671" y="406" width="1" height="12" fill="#ff1010"/><rect x="676" y="410" width="1" height="8" fill="#44cc00"/><rect x="680" y="411" width="1" height="7" fill="#ff1010"/><rect x="684" y="408" width="1" height="10" fill="#44cc00"/><rect x="688" y="414" width="1" height="4" fill="#ff1010"/><rect x="693" y="406" width="1" height="12" fill="#ff1010"/><rect x="697" y="405" width="1" height="13" fill="#ff1010"/><rect x="701" y="404" width="1" height="14" fill="#44cc00"/><rect x="705" y="411" width="1" height="7" fill="#44cc00"/><rect x="710" y="414" width="1" height="4" fill="#44cc00"/><rect x="714" y="412" width="1" height="6" fill="#ff1010"/><rect x="718" y="410" width="1" height="8" fill="#44cc00"/><rect x="722" y="412" width="1" height="6" fill="#ff1010"/><rect x="726" y="410" width="1" height="8" fill="#44cc00"/><rect x="731" y="413" width="1" height="5" fill="#44cc00"/><rect x="735" y="411" width="1" height="7" fill="#44cc00"/><rect x="739" y="411" width="1" height="7" fill="#44cc00"/><rect x="743" y="412" width="1" height="6" fill="#44cc00"/><rect x="748" y="411" width="1" height="7" fill="#ff1010"/><rect x="752" y="412" width="1" height="6" fill="#44cc00"/><rect x="756" y="412" width="1" height="6" fill="#44cc00"/><rect x="760" y="411" width="1" height="7" fill="#ff1010"/><rect x="765" y="408" width="1" height="10" fill="#44cc00"/><rect x="769" y="400" width="1" height="18" fill="#ff1010"/><rect x="773" y="408" width="1" height="10" fill="#ff1010"/><rect x="777" y="406" width="1" height="12" fill="#ff1010"/><rect x="781" y="409" width="1" height="9" fill="#ff1010"/><rect x="786" y="409" width="1" height="9" fill="#ff1010"/><rect x="790" y="408" width="1" height="10" fill="#44cc00"/><rect x="794" y="408" width="1" height="10" fill="#ff1010"/><rect x="798" y="412" width="1" height="6" fill="#44cc00"/><rect x="803" y="413" width="1" height="5" fill="#ff1010"/><rect x="807" y="412" width="1" height="6" fill="#44cc00"/><rect x="811" y="413" width="1" height="5" fill="#44cc00"/><rect x="815" y="414" width="1" height="4" fill="#ff1010"/><rect x="820" y="413" width="1" height="5" fill="#44cc00"/><rect x="824" y="412" width="1" height="6" fill="#ff1010"/><rect x="828" y="411" width="1" height="7" fill="#ff1010"/><rect x="832" y="409" width="1" height="9" fill="#44cc00"/><rect x="836" y="412" width="1" height="6" fill="#44cc00"/><rect x="841" y="408" width="1" height="10" fill="#44cc00"/><rect x="845" y="410" width="1" height="8" fill="#44cc00"/><rect x="849" y="404" width="1" height="14" fill="#44cc00"/></g>
<g font-family="Liberation Sans, sans-serif" font-size="10">
<text x="6" y="368" fill="#222">VOL</text>
<text x="36" y="368" fill="#3cc81e">136.05</text>
<text x="6" y="433" fill="#222">SlowSTO(3,14,3)</text>
<text x="94" y="433" fill="#2a8cf0">K:97.19</text>
<text x="137.5" y="433" fill="#f01020">D:90.88</text>
</g>
<g fill="none" stroke-width="2.1" stroke-linejoin="round" stroke-linecap="round">
<path d="M4,454 C4.5,454.3 5.8,453.8 7,456 C8.2,458.2 9.7,464.3 11,467 C12.3,469.7 13.2,472 15,472 C16.8,472 19.5,470 22,467 C24.5,464 28.2,456.7 30,454 C31.8,451.3 31.8,452.8 33,451 C34.2,449.2 35,444.8 37,443 C39,441.2 42.7,440.4 45,440.4 C47.3,440.4 48.7,442.1 51,443 C53.3,443.9 56.5,445.8 59,446 C61.5,446.2 63.3,445.5 66,444.4 C68.7,443.3 72.3,440.5 75,439.6 C77.7,438.7 79.8,438.8 82,439 C84.2,439.2 86,439.7 88,441 C90,442.3 92,445 94,447 C96,449 98.2,451.3 100,453 C101.8,454.7 103.2,457.3 105,457 C106.8,456.7 108.8,453.1 111,451 C113.2,448.9 116.2,444.9 118,444.4 C119.8,443.9 120.3,447.2 122,448 C123.7,448.8 125.7,448.7 128,449 C130.3,449.3 133.5,448.8 136,450 C138.5,451.2 141,455.5 143,456 C145,456.5 145.8,454.2 148,453 C150.2,451.8 154,448.5 156,449 C158,449.5 158.7,454.5 160,456 C161.3,457.5 162.5,456.5 164,458 C165.5,459.5 167.7,464.3 169,465 C170.3,465.7 170.7,461.2 172,462 C173.3,462.8 175.5,468.2 177,470 C178.5,471.8 179.5,471.2 181,473 C182.5,474.8 184.7,480 186,481 C187.3,482 187.7,480.3 189,479 C190.3,477.7 192.3,473.7 194,473 C195.7,472.3 197.3,474 199,475 C200.7,476 202.5,478.5 204,479 C205.5,479.5 206.2,479.9 208,478 C209.8,476.1 213,468.8 215,467.6 C217,466.4 218,469.9 220,471 C222,472.1 224.8,474 227,474 C229.2,474 231.5,471.8 233,471 C234.5,470.2 234.5,471.5 236,469 C237.5,466.5 240,459.9 242,456 C244,452.1 246,447.5 248,445.6 C250,443.7 252,443.8 254,444.4 C256,445 258,447.1 260,449 C262,450.9 264.2,454.2 266,455.6 C267.8,457 269.2,457.6 271,457.6 C272.8,457.6 275.2,455.5 277,455.6 C278.8,455.7 279.8,455.9 282,458 C284.2,460.1 287.3,464.5 290,468 C292.7,471.5 295.7,476.3 298,479 C300.3,481.7 302,482.9 304,484 C306,485.1 308,485.8 310,485.6 C312,485.4 314,483.5 316,483 C318,482.5 320,483.2 322,482.4 C324,481.6 326.2,479.8 328,478 C329.8,476.2 331.3,472.4 333,471.6 C334.7,470.8 336.5,472.1 338,473 C339.5,473.9 340.5,476.2 342,477 C343.5,477.8 345.3,478.4 347,477.6 C348.7,476.8 350.5,473.5 352,472.4 C353.5,471.3 354.8,471 356,471 C357.2,471 357.8,473.7 359,472.4 C360.2,471.1 361.5,465.7 363,463 C364.5,460.3 366.6,458.6 368,456 C369.4,453.4 370.3,448.4 371.6,447.6 C372.9,446.8 374.3,450.1 376,451 C377.7,451.9 380,451.3 382,453 C384,454.7 386.2,458.3 388,461 C389.8,463.7 391.5,467.6 393,469 C394.5,470.4 395.7,469 397,469.6 C398.3,470.2 399.5,472 401,472.4 C402.5,472.8 404.2,471.2 406,472 C407.8,472.8 410,475.2 412,477 C414,478.8 416,482.1 418,483 C420,483.9 422,483.2 424,482.4 C426,481.6 427.7,479 430,478 C432.3,477 436,476.1 438,476.4 C440,476.7 440.5,478.7 442,479.6 C443.5,480.5 445.3,481.9 447,481.6 C448.7,481.3 449.8,479.7 452,477.6 C454.2,475.5 457.7,470.1 460,469 C462.3,467.9 463.8,471.3 466,471 C468.2,470.7 470.7,467.6 473,467 C475.3,466.4 477.8,466.7 480,467.6 C482.2,468.5 484.2,472.2 486,472.4 C487.8,472.6 489.2,472.1 491,469 C492.8,465.9 495,458 497,454 C499,450 500.8,446.6 503,445 C505.2,443.4 508,443.6 510,444.4 C512,445.2 513.3,447.4 515,450 C516.7,452.6 518.3,457.4 520,460 C521.7,462.6 523.2,465.2 525,465.6 C526.8,466 528.5,463.3 531,462.4 C533.5,461.5 536.8,461.8 540,460.4 C543.2,459 547,454.9 550,454 C553,453.1 555.2,454.3 558,455 C560.8,455.7 564.7,457.9 567,458 C569.3,458.1 570.2,457.3 572,455.6 C573.8,453.9 576.3,449.3 578,447.6 C579.7,445.9 580.7,444.9 582.4,445.6 C584.1,446.3 585.7,450.2 588,452 C590.3,453.8 593.3,456.4 596,456.4 C598.7,456.4 601.3,454.1 604,452 C606.7,449.9 609.8,445.7 612,444 C614.2,442.3 615.3,442 617,442 C618.7,442 620.3,442 622,444 C623.7,446 625.3,449.7 627,454 C628.7,458.3 630.2,465.2 632,470 C633.8,474.8 636,480.9 638,483 C640,485.1 641.3,483.1 644,482.4 C646.7,481.7 651,479.7 654,479 C657,478.3 659,477.8 662,478.4 C665,479 669,481.9 672,482.4 C675,482.9 676.7,482.4 680,481.6 C683.3,480.8 689.7,478.3 692,477.6 C694.3,476.9 692.2,477.1 694,477.6 C695.8,478.1 700.3,480.6 703,480.4 C705.7,480.2 707.2,477.7 710,476.4 C712.8,475.1 717.2,473.7 720,472.4 C722.8,471.1 725,469.4 727,468.4 C729,467.4 730.2,468.1 732,466.4 C733.8,464.7 736.2,461.2 738,458 C739.8,454.8 741.3,449.5 743,447 C744.7,444.5 746.2,443.4 748,443 C749.8,442.6 752,443.4 754,444.4 C756,445.4 758,447.1 760,449 C762,450.9 764,452.8 766,456 C768,459.2 770,464.3 772,468 C774,471.7 776.2,475.5 778,478 C779.8,480.5 781,482.1 783,483 C785,483.9 787.5,484 790,483.6 C792.5,483.2 795.3,481.7 798,480.4 C800.7,479.1 803.3,477.6 806,476 C808.7,474.4 811.7,472.3 814,471 C816.3,469.7 817.7,469 820,468.4 C822.3,467.8 825.7,468.7 828,467.6 C830.3,466.5 832,465.1 834,462 C836,458.9 838.2,452.5 840,449 C841.8,445.5 843.5,442.7 845,441 C846.5,439.3 848.3,439.3 849,439" stroke="#1e96ff"/>
<path d="M4,455.6 C4.7,455.7 6.5,454.9 8,456 C9.5,457.1 11.2,460 13,462 C14.8,464 17,467.2 19,468 C21,468.8 22.8,469.2 25,467 C27.2,464.8 29.7,458.5 32,455 C34.3,451.5 36.7,448.2 39,446 C41.3,443.8 43.5,442.1 46,441.6 C48.5,441.1 51,442.3 54,443 C57,443.7 61,445.7 64,445.6 C67,445.5 69,443.4 72,442.4 C75,441.4 79.2,439.8 82,439.6 C84.8,439.4 86.7,439.8 89,441 C91.3,442.2 93.2,444.7 96,447 C98.8,449.3 103.3,454 106,455 C108.7,456 109.7,454.3 112,453 C114.3,451.7 117.3,447.8 120,447 C122.7,446.2 125.3,447.5 128,448 C130.7,448.5 133,448.8 136,450 C139,451.2 142.5,454.9 146,455 C149.5,455.1 154,450.5 157,450.4 C160,450.3 161.8,452.6 164,454.4 C166.2,456.2 167.2,458.9 170,461 C172.8,463.1 178.5,464.9 181,467 C183.5,469.1 183.5,471.8 185,473.6 C186.5,475.4 187.8,477.4 190,477.6 C192.2,477.8 195.2,475 198,475 C200.8,475 203.3,478.4 207,477.6 C210.7,476.8 216.5,471.2 220,470.4 C223.5,469.6 225.5,472.7 228,473 C230.5,473.3 232.7,473.5 235,472 C237.3,470.5 239.8,467.1 242,464 C244.2,460.9 245.7,456.6 248,453.6 C250.3,450.6 253.7,446.9 256,446 C258.3,445.1 259.5,446.5 262,448 C264.5,449.5 268.3,453.6 271,455 C273.7,456.4 275.7,455.9 278,456.4 C280.3,456.9 282.7,456.6 285,458 C287.3,459.4 289.5,461.8 292,465 C294.5,468.2 297.3,473.9 300,477 C302.7,480.1 305.3,482.4 308,483.6 C310.7,484.8 313.3,484.3 316,484 C318.7,483.7 321,483.5 324,482 C327,480.5 331.3,476.5 334,475 C336.7,473.5 337.7,472.8 340,473 C342.3,473.2 345,476.1 348,476 C351,475.9 355,474.2 358,472.4 C361,470.6 363.7,467.9 366,465 C368.3,462.1 369.7,457.4 372,455 C374.3,452.6 377.3,450.1 380,450.4 C382.7,450.7 385.7,454.7 388,457 C390.3,459.3 391.7,461.7 394,464 C396.3,466.3 399.3,469.5 402,471 C404.7,472.5 407.3,471.7 410,473 C412.7,474.3 415.3,477.4 418,479 C420.7,480.6 422.7,482.6 426,482.4 C429.3,482.2 434,478 438,477.6 C442,477.2 446.7,480.4 450,480 C453.3,479.6 455.7,476.5 458,475 C460.3,473.5 461.3,471.9 464,471 C466.7,470.1 471.2,470.2 474,469.6 C476.8,469 478.5,467.4 481,467.6 C483.5,467.8 486.7,471 489,471 C491.3,471 492.8,470.4 495,467.6 C497.2,464.8 499.5,457.8 502,454 C504.5,450.2 507.7,446.2 510,445 C512.3,443.8 514,445.2 516,447 C518,448.8 520,453.3 522,456 C524,458.7 526,461.7 528,463 C530,464.3 531.3,464.1 534,463.6 C536.7,463.1 540.3,461.5 544,460 C547.7,458.5 551.7,454.9 556,454.4 C560.3,453.9 566.7,457.3 570,457 C573.3,456.7 573.7,454 576,452.4 C578.3,450.8 581.7,448 584,447.6 C586.3,447.2 587.7,448.8 590,450 C592.3,451.2 595.7,454.3 598,455 C600.3,455.7 601.7,455.6 604,454.4 C606.3,453.2 609.3,449.9 612,448 C614.7,446.1 617.7,443.2 620,443 C622.3,442.8 624,443.7 626,447 C628,450.3 630,458 632,463 C634,468 635.7,473.7 638,477 C640.3,480.3 643.3,482.3 646,483 C648.7,483.7 651,481.7 654,481 C657,480.3 660,478.9 664,479 C668,479.1 673.3,481.7 678,481.6 C682.7,481.5 689,479 692,478.4 C695,477.8 693.7,477.7 696,478 C698.3,478.3 702.3,480.6 706,480 C709.7,479.4 714,476.2 718,474.4 C722,472.6 726.7,471.1 730,469 C733.3,466.9 735.3,465.2 738,462 C740.7,458.8 743.5,452.9 746,450 C748.5,447.1 751,445.2 753,444.4 C755,443.6 756,443.9 758,445 C760,446.1 762.7,448.2 765,451 C767.3,453.8 769.5,458 772,462 C774.5,466 777.3,471.6 780,475 C782.7,478.4 785.7,481 788,482.4 C790.3,483.8 791.7,483.8 794,483.6 C796.3,483.4 799.3,482.2 802,481 C804.7,479.8 807,478.2 810,476.4 C813,474.6 816.7,472 820,470.4 C823.3,468.8 827.7,467.9 830,467 C832.3,466.1 832.2,467.2 834,465 C835.8,462.8 838.5,457.8 841,454 C843.5,450.2 847.7,444.3 849,442.4" stroke="#ff0a0a"/>
</g>
<rect x="0" y="468" width="72" height="34" fill="#d4d4d4"/>
<g shape-rendering="crispEdges">
<rect x="72" y="487" width="1056" height="1" fill="#5a5a5a"/>
<rect x="72" y="488" width="1056" height="12" fill="#111"/>
<rect x="92" y="482" width="1" height="5" fill="#8a8a8a"/>
<rect x="182" y="482" width="1" height="5" fill="#8a8a8a"/>
<rect x="257" y="482" width="1" height="5" fill="#8a8a8a"/>
<rect x="354" y="482" width="1" height="5" fill="#8a8a8a"/>
<rect x="443" y="482" width="1" height="5" fill="#8a8a8a"/>
<rect x="532" y="482" width="1" height="5" fill="#8a8a8a"/>
<rect x="625" y="482" width="1" height="5" fill="#8a8a8a"/>
<rect x="714" y="482" width="1" height="5" fill="#8a8a8a"/>
<rect x="811" y="482" width="1" height="5" fill="#8a8a8a"/>
<rect x="900" y="482" width="1" height="5" fill="#8a8a8a"/>
<rect x="986" y="482" width="1" height="5" fill="#8a8a8a"/>
<rect x="1082" y="482" width="1" height="5" fill="#8a8a8a"/>
</g>
<g font-family="Liberation Sans, sans-serif" font-size="11" fill="#fff" stroke="#fff" stroke-width="0.3">
<text x="94" y="498">May</text>
<text x="184" y="498">Jun</text>
<text x="259" y="498">Jul</text>
<text x="356" y="498">Aug</text>
<text x="445" y="498">Sep</text>
<text x="534" y="498">Oct</text>
<text x="627" y="498">Nov</text>
<text x="716" y="498">Dec</text>
<text x="813" y="498">2026Jan</text>
<text x="902" y="498">Feb</text>
<text x="988" y="498">Mar</text>
<text x="1084" y="498">Apr</text>
</g>
<g shape-rendering="crispEdges">
<rect x="1128" y="0" width="68" height="502" fill="#131313"/>
<rect x="1128" y="0" width="1" height="487" fill="#000"/>
<rect x="1196" y="0" width="1" height="502" fill="#3c3c3c"/>
<rect x="1197" y="0" width="2" height="502" fill="#2a2a2a"/>
<rect x="72" y="500" width="1124" height="2" fill="#2e2e2e"/>
<rect x="1128" y="358" width="71" height="1" fill="#7a7a7a"/>
<rect x="1128" y="423" width="71" height="1" fill="#7a7a7a"/>
<rect x="1128" y="28" width="6" height="1" fill="#c8c8c8"/>
<rect x="1128" y="68" width="6" height="1" fill="#c8c8c8"/>
<rect x="1128" y="108" width="6" height="1" fill="#c8c8c8"/>
<rect x="1128" y="148" width="6" height="1" fill="#c8c8c8"/>
<rect x="1128" y="188" width="6" height="1" fill="#c8c8c8"/>
<rect x="1128" y="228" width="6" height="1" fill="#c8c8c8"/>
<rect x="1128" y="307" width="6" height="1" fill="#c8c8c8"/>
<rect x="1128" y="486" width="6" height="1" fill="#c8c8c8"/>
<rect x="1128" y="417" width="6" height="1" fill="#c8c8c8"/>
<rect x="1128" y="347" width="6" height="1" fill="#c8c8c8"/>
</g>
<g font-family="Liberation Sans, sans-serif" font-size="11" fill="#fff" stroke="#fff" stroke-width="0.3">
<text x="1136" y="31.5" textLength="53" lengthAdjust="spacingAndGlyphs">1,100.0000</text>
<text x="1136" y="71.5" textLength="53" lengthAdjust="spacingAndGlyphs">1,050.0000</text>
<text x="1136" y="111.5" textLength="53" lengthAdjust="spacingAndGlyphs">1,000.0000</text>
<text x="1136" y="151.5" textLength="44" lengthAdjust="spacingAndGlyphs">950.0000</text>
<text x="1136" y="191.5" textLength="44" lengthAdjust="spacingAndGlyphs">900.0000</text>
<text x="1136" y="231.5" textLength="44" lengthAdjust="spacingAndGlyphs">850.0000</text>
<text x="1136" y="310.5" textLength="44" lengthAdjust="spacingAndGlyphs">750.0000</text>
<text x="1136" y="490" textLength="33" lengthAdjust="spacingAndGlyphs">0.0000</text>
</g>
<text x="1136.5" y="420.6" font-family="Liberation Sans, sans-serif" font-size="11" fill="#fff">0K</text>
<path d="M1130,268.5 L1134,262 L1194,262 L1194,278 L1134,278 Z" fill="#008000"/>
<rect x="1134" y="282" width="60" height="16" fill="#dfc591"/>
<rect x="1133" y="337" width="63" height="18" fill="#ffff00"/>
<rect x="1134" y="396" width="60" height="16.5" fill="#44c800"/>
<rect x="1134" y="414" width="60" height="16" fill="#0a8cff"/>
<rect x="1134" y="434" width="60" height="16" fill="#ff0000"/>
<g font-family="Liberation Sans, sans-serif" font-size="11" stroke-width="0.25">
<text x="1138.5" y="273" fill="#fff" stroke="#fff" textLength="44.5" lengthAdjust="spacingAndGlyphs">798.0000</text>
<text x="1138.5" y="293" fill="#1a1a1a" stroke="#1a1a1a" textLength="44.5" lengthAdjust="spacingAndGlyphs">780.3000</text>
<text x="1139" y="408.5" fill="#000" stroke="#000" textLength="45" lengthAdjust="spacingAndGlyphs">136.054K</text>
<text x="1139" y="426" fill="#fff" stroke="#fff" textLength="38" lengthAdjust="spacingAndGlyphs">97.1881</text>
<text x="1139" y="446" fill="#fff" stroke="#fff" textLength="38" lengthAdjust="spacingAndGlyphs">90.8768</text>
</g>
<g fill="none" stroke="#1c1c1c" stroke-width="1.2" stroke-linecap="round" stroke-linejoin="round">
<path d="M1176.8,348.4 H1161.2 M1172.2,344.6 H1175.4 L1176.8,348.4 M1165.4,341.3 V348.4 M1165.4,345.4 C1166.5,344.5 1168.5,344.4 1170.2,344.8 L1170.8,348.4 M1161.2,348.4 L1161.2,344.8 M1160.2,345.2 L1159.3,349.4 C1158.3,350 1156.4,350 1155.1,349.1 L1154.8,347.6"/>
</g>
<g fill="#1c1c1c"><circle cx="1174.6" cy="342.3" r="0.8"/><circle cx="1156.7" cy="351.6" r="0.7"/><circle cx="1158.8" cy="351.6" r="0.7"/></g>
</svg>
<svg width="1199" height="502" style="position:absolute;left:0;top:0">
<g font-family="Liberation Sans, sans-serif" font-weight="bold" stroke="#fafafa" stroke-width="1.6" paint-order="stroke" stroke-linejoin="round">
<text x="50.5" y="295.5" font-size="50" textLength="243.5" lengthAdjust="spacingAndGlyphs" fill="none" stroke-width="3.6" font-weight="normal">economies</text>
<text x="50.5" y="295.5" font-size="50" textLength="243.5" lengthAdjust="spacingAndGlyphs" fill="#fdd9bf" stroke="#fdd9bf" stroke-width="1.3" font-weight="normal">economies</text>
<text x="293.5" y="295.5" font-size="50" fill="#dcdcdc" font-weight="normal">.</text>
<text x="301" y="295.5" font-size="50" textLength="89" lengthAdjust="spacingAndGlyphs" fill="#dcdcdc" font-weight="normal">com</text>
<text x="89" y="334.5" font-size="43" textLength="21.5" lengthAdjust="spacingAndGlyphs" fill="#e0e0e0">F</text>
<text x="137" y="334.5" font-size="43" textLength="208" lengthAdjust="spacingAndGlyphs" fill="#e0e0e0">NewsToday</text>
</g>
<g fill="none" stroke-linecap="round" stroke-linejoin="round">
<path d="M112.5,312 L119,319.5 L131,311.5 M114,332 L125.5,322.5 L135,332.5" stroke="#f8f8f8" stroke-width="5"/>
<path d="M112.5,312 L119,319.5 L131,311.5" stroke="#e8b2b2" stroke-width="3"/>
<path d="M114,332 L125.5,322.5 L135,332.5" stroke="#c4e2c4" stroke-width="3"/>
</g>
</svg>
</div></body></html>
